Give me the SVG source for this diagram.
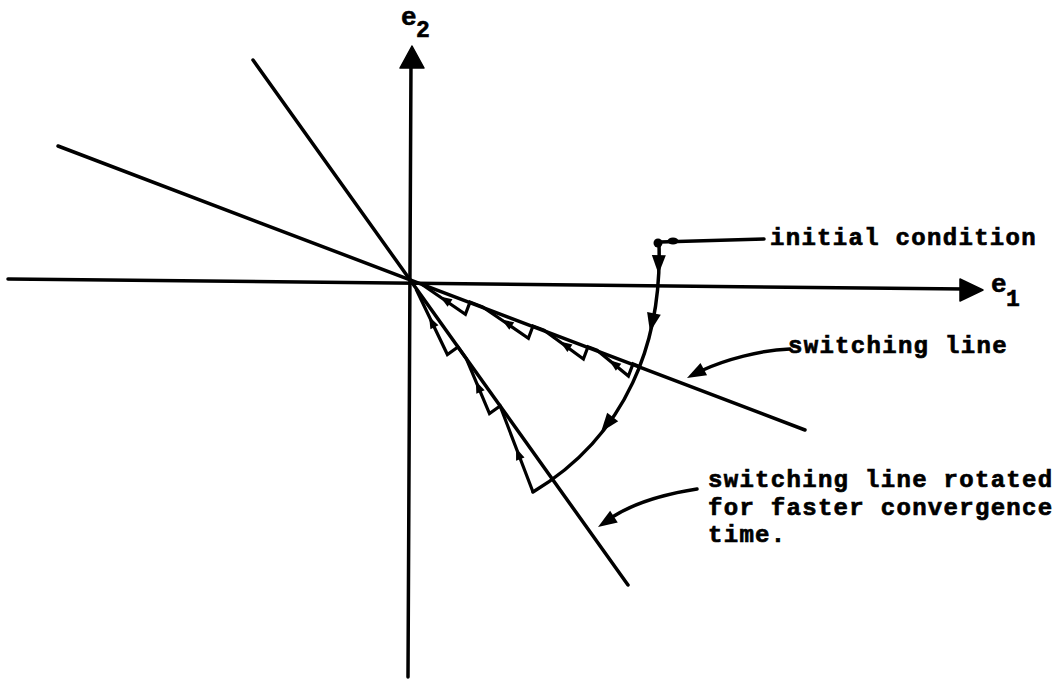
<svg xmlns="http://www.w3.org/2000/svg" width="1063" height="679" viewBox="0 0 1063 679">
<style>
.ln{stroke:#000;stroke-width:3.5;fill:none;stroke-linecap:round;stroke-linejoin:round}
.tr{stroke:#000;stroke-width:3.2;fill:none;stroke-linejoin:miter}
.lbl{font-family:"Liberation Mono","DejaVu Sans Mono",monospace;font-weight:bold;font-size:24px;letter-spacing:1.3px;fill:#000;stroke:#000;stroke-width:0.7}
.ax{font-family:"Liberation Mono","DejaVu Sans Mono",monospace;font-weight:bold;fill:#000;stroke:#000;stroke-width:0.6}
</style>
<defs>
<path id="ah" d="M0,0 L-19,-7 L-19,7 Z" fill="#000"/>
<path id="as" d="M0,0 L-12,-4.5 L-12,4.5 Z" fill="#000"/>
</defs>
<rect width="1063" height="679" fill="#fff"/>
<g id="axes">
<line class="ln" x1="411" y1="60" x2="408" y2="677"/>
<polygon points="412,46 400,68 424,68" fill="#000" stroke="#000" stroke-width="1.5" stroke-linejoin="round"/>
<line class="ln" x1="8" y1="279" x2="965" y2="289"/>
<polygon points="983,290 960,279 960,301" fill="#000" stroke="#000" stroke-width="1.5" stroke-linejoin="round"/>
<text class="ax" x="401" y="25" font-size="26">e</text>
<text class="ax" x="416" y="37" font-size="23">2</text>
<text class="ax" x="991" y="292" font-size="26">e</text>
<text class="ax" x="1006" y="306" font-size="23">1</text>
</g>
<g id="switching-lines">
<line class="ln" x1="58" y1="146" x2="805" y2="430"/>
<line class="ln" x1="253" y1="60" x2="628" y2="585"/>
</g>
<g id="trajectory">
<path class="ln" d="M659,244 C662,340 628,435 533,492"/>
<use href="#ah" transform="translate(658.5,274) rotate(91)"/>
<use href="#ah" transform="translate(650,332) rotate(102)"/>
<use href="#ah" transform="translate(601,432) rotate(128)"/>
<path class="tr" d="M639.5,366.5 L633,363.9 L628.4,376.1 L597,350.2 L588,346.8 L583.4,359 L544,330.1 L533,326 L528.4,338.2 L482.6,306.9 L470,302.1 L465.4,314.3 L422,284.5"/>
<use href="#as" transform="translate(609,360) rotate(217)"/>
<use href="#as" transform="translate(560,341.5) rotate(214)"/>
<use href="#as" transform="translate(501.7,319.5) rotate(213)"/>
<use href="#as" transform="translate(440,296.5) rotate(213)"/>
<path class="tr" d="M533,492 L500.1,406 L489.5,413.5 L466.4,358.8 L458,347 L447.4,354.5 L416,289"/>
<use href="#as" transform="translate(516,448) rotate(249)"/>
<use href="#as" transform="translate(475.8,381) rotate(247)"/>
<use href="#as" transform="translate(429,316.5) rotate(243)"/>
</g>
<g id="initial-condition">
<circle cx="658" cy="243" r="4.5" fill="#000"/>
<ellipse cx="673" cy="241" rx="5.5" ry="3.5" fill="#000"/>
<line class="ln" x1="660" y1="242" x2="764" y2="239" stroke-width="2.5"/>
<text class="lbl" x="770" y="245">initial condition</text>
</g>
<g id="switching-line-label">
<path class="ln" d="M790,349 C760,350 725,360 703,370" stroke-width="2.5"/>
<use href="#ah" transform="translate(687,378) rotate(152)"/>
<text class="lbl" x="788" y="353">switching line</text>
</g>
<g id="rotated-label">
<path class="ln" d="M697,489 C665,494 635,503 614,516" stroke-width="2.5"/>
<use href="#ah" transform="translate(598,527) rotate(147)"/>
<text class="lbl" x="708" y="487">switching line rotated</text>
<text class="lbl" x="708" y="515">for faster convergence</text>
<text class="lbl" x="708" y="542">time.</text>
</g>
</svg>
